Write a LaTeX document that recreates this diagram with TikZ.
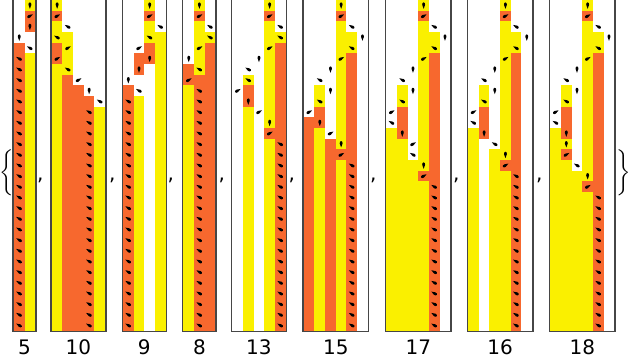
\documentclass[tikz,border=0pt]{standalone}
\usepackage{fontspec}
\setmainfont{DejaVu Sans}
\usepackage{exscale}
\definecolor{tmorange}{RGB}{247,104,46}
\definecolor{tmyellow}{RGB}{250,240,0}
\definecolor{framegray}{RGB}{70,70,70}
\tikzset{every picture/.style={line width=0.75pt}}
\tikzset{
  orangecell/.style={fill=tmorange},
  yellowcell/.style={fill=tmyellow},
  panelframe/.style={draw=framegray, line width=1pt},
  hup/.style={rotate=-90},
  hdr/.style={rotate=30},
  hdl/.style={rotate=150},
  tmhead/.pic={\fill (2.6pt,0pt) .. controls (1pt,1.35pt) and (-2.2pt,1.55pt) .. (-2.2pt,0pt) .. controls (-2.2pt,-1.55pt) and (1pt,-1.35pt) .. (2.6pt,0pt) -- cycle;},
  tmlabel/.style={anchor=base, inner sep=0.75pt, font=\fontsize{15}{18}\selectfont},
  tmcomma/.style={anchor=base west, inner sep=0pt, font=\fontsize{15}{18}\selectfont},
}

\begin{document}
\begin{tikzpicture}[x=0.75pt,y=0.75pt,yscale=-1,xscale=1]
\path[use as bounding box] (0,0) rectangle (630,362);

% Text Node: opening brace
\node (lbrace) at (7,174) {\fontsize{14}{16}\selectfont$\left\{\vrule height 15pt depth 15pt width 0pt\right.$};

%Shape: Panel halting at 5
\begin{scope}[shift={(13.9,0)},x=8pt,y=8pt]
\fill[orangecell] (0,4) rectangle (1,31);
\fill[yellowcell] (1,0) rectangle (2,1);
\fill[orangecell] (1,1) rectangle (2,3);
\fill[yellowcell] (1,5) rectangle (2,31);
\pic[hup] at (1.5,0.5) {tmhead};
\pic[hdr] at (1.5,1.5) {tmhead};
\pic[hup] at (1.5,2.5) {tmhead};
\pic[hup] at (0.5,3.5) {tmhead};
\pic[hdl] at (1.5,4.5) {tmhead};
\foreach \r in {5,...,30} \pic[hdl] at (0.5,\r+0.5) {tmhead};
\draw[panelframe] (-0.07,-0.1) rectangle (2.07,31.07);
% Text Node
\node[tmlabel] (lab5) at (1,33.2) {5};
\end{scope}

%Shape: Panel halting at 10
\begin{scope}[shift={(51.8,0)},x=8pt,y=8pt]
\fill[yellowcell] (0,0) rectangle (1,1);
\fill[orangecell] (0,1) rectangle (1,2);
\fill[yellowcell] (0,2) rectangle (1,4);
\fill[orangecell] (0,4) rectangle (1,6);
\fill[yellowcell] (0,6) rectangle (1,31);
\fill[yellowcell] (1,3) rectangle (2,7);
\fill[orangecell] (1,7) rectangle (2,31);
\fill[orangecell] (2,8) rectangle (3,31);
\fill[orangecell] (3,9) rectangle (4,31);
\fill[yellowcell] (4,10) rectangle (5,31);
\pic[hup] at (0.5,0.5) {tmhead};
\pic[hdr] at (0.5,1.5) {tmhead};
\pic[hdl] at (1.5,2.5) {tmhead};
\pic[hdl] at (0.5,3.5) {tmhead};
\pic[hdr] at (1.5,4.5) {tmhead};
\pic[hdr] at (0.5,5.5) {tmhead};
\pic[hdl] at (1.5,6.5) {tmhead};
\pic[hdr] at (2.5,7.5) {tmhead};
\pic[hup] at (3.5,8.5) {tmhead};
\pic[hdl] at (4.5,9.5) {tmhead};
\foreach \r in {10,...,30} \pic[hdl] at (3.5,\r+0.5) {tmhead};
\draw[panelframe] (-0.07,-0.1) rectangle (5.07,31.07);
% Text Node
\node[tmlabel] (lab10) at (2.5,33.2) {10};
\end{scope}

%Shape: Panel halting at 9
\begin{scope}[shift={(123,0)},x=8pt,y=8pt]
\fill[orangecell] (0,8) rectangle (1,31);
\fill[orangecell] (1,5) rectangle (2,7);
\fill[yellowcell] (1,9) rectangle (2,31);
\fill[yellowcell] (2,0) rectangle (3,1);
\fill[orangecell] (2,1) rectangle (3,2);
\fill[yellowcell] (2,2) rectangle (3,4);
\fill[orangecell] (2,4) rectangle (3,6);
\fill[yellowcell] (3,3) rectangle (4,31);
\pic[hup] at (2.5,0.5) {tmhead};
\pic[hdr] at (2.5,1.5) {tmhead};
\pic[hdl] at (3.5,2.5) {tmhead};
\pic[hdl] at (2.5,3.5) {tmhead};
\pic[hdr] at (1.5,4.5) {tmhead};
\pic[hup] at (2.5,5.5) {tmhead};
\pic[hup] at (1.5,6.5) {tmhead};
\pic[hup] at (0.5,7.5) {tmhead};
\pic[hdl] at (1.5,8.5) {tmhead};
\foreach \r in {9,...,30} \pic[hdl] at (0.5,\r+0.5) {tmhead};
\draw[panelframe] (-0.07,-0.1) rectangle (4.07,31.07);
% Text Node
\node[tmlabel] (lab9) at (2,33.2) {9};
\end{scope}

%Shape: Panel halting at 8
\begin{scope}[shift={(183.4,0)},x=8pt,y=8pt]
\fill[orangecell] (0,6) rectangle (1,8);
\fill[yellowcell] (0,8) rectangle (1,31);
\fill[yellowcell] (1,0) rectangle (2,1);
\fill[orangecell] (1,1) rectangle (2,2);
\fill[yellowcell] (1,2) rectangle (2,7);
\fill[orangecell] (1,7) rectangle (2,31);
\fill[yellowcell] (2,3) rectangle (3,4);
\fill[orangecell] (2,4) rectangle (3,31);
\pic[hup] at (1.5,0.5) {tmhead};
\pic[hdr] at (1.5,1.5) {tmhead};
\pic[hdl] at (2.5,2.5) {tmhead};
\pic[hdl] at (2.5,3.5) {tmhead};
\pic[hdr] at (1.5,4.5) {tmhead};
\pic[hup] at (0.5,5.5) {tmhead};
\pic[hdl] at (1.5,6.5) {tmhead};
\pic[hdr] at (0.5,7.5) {tmhead};
\foreach \r in {8,...,30} \pic[hdl] at (1.5,\r+0.5) {tmhead};
\draw[panelframe] (-0.07,-0.1) rectangle (3.07,31.07);
% Text Node
\node[tmlabel] (lab8) at (1.5,33.2) {8};
\end{scope}

%Shape: Panel halting at 13
\begin{scope}[shift={(232.3,0)},x=8pt,y=8pt]
\fill[yellowcell] (1,7) rectangle (2,8);
\fill[orangecell] (1,8) rectangle (2,10);
\fill[yellowcell] (1,10) rectangle (2,31);
\fill[yellowcell] (3,0) rectangle (4,1);
\fill[orangecell] (3,1) rectangle (4,2);
\fill[yellowcell] (3,2) rectangle (4,12);
\fill[orangecell] (3,12) rectangle (4,13);
\fill[yellowcell] (3,13) rectangle (4,31);
\fill[yellowcell] (4,3) rectangle (5,4);
\fill[orangecell] (4,4) rectangle (5,31);
\pic[hup] at (3.5,0.5) {tmhead};
\pic[hdr] at (3.5,1.5) {tmhead};
\pic[hdl] at (4.5,2.5) {tmhead};
\pic[hdl] at (4.5,3.5) {tmhead};
\pic[hdr] at (3.5,4.5) {tmhead};
\pic[hup] at (2.5,5.5) {tmhead};
\pic[hdl] at (1.5,6.5) {tmhead};
\pic[hdl] at (1.5,7.5) {tmhead};
\pic[hdr] at (0.5,8.5) {tmhead};
\pic[hup] at (1.5,9.5) {tmhead};
\pic[hdr] at (2.5,10.5) {tmhead};
\pic[hup] at (3.5,11.5) {tmhead};
\pic[hdr] at (3.5,12.5) {tmhead};
\foreach \r in {13,...,30} \pic[hdl] at (4.5,\r+0.5) {tmhead};
\draw[panelframe] (-0.07,-0.1) rectangle (5.07,31.07);
% Text Node
\node[tmlabel] (lab13) at (2.5,33.2) {13};
\end{scope}

%Shape: Panel halting at 15
\begin{scope}[shift={(303.8,0)},x=8pt,y=8pt]
\fill[orangecell] (0,11) rectangle (1,31);
\fill[yellowcell] (1,8) rectangle (2,10);
\fill[orangecell] (1,10) rectangle (2,12);
\fill[yellowcell] (1,12) rectangle (2,31);
\fill[orangecell] (2,13) rectangle (3,31);
\fill[yellowcell] (3,0) rectangle (4,1);
\fill[orangecell] (3,1) rectangle (4,2);
\fill[yellowcell] (3,2) rectangle (4,14);
\fill[orangecell] (3,14) rectangle (4,15);
\fill[yellowcell] (3,15) rectangle (4,31);
\fill[yellowcell] (4,3) rectangle (5,5);
\fill[orangecell] (4,5) rectangle (5,31);
\pic[hup] at (3.5,0.5) {tmhead};
\pic[hdr] at (3.5,1.5) {tmhead};
\pic[hdl] at (4.5,2.5) {tmhead};
\pic[hup] at (5.5,3.5) {tmhead};
\pic[hdl] at (4.5,4.5) {tmhead};
\pic[hdr] at (3.5,5.5) {tmhead};
\pic[hup] at (2.5,6.5) {tmhead};
\pic[hdl] at (1.5,7.5) {tmhead};
\pic[hup] at (2.5,8.5) {tmhead};
\pic[hdl] at (1.5,9.5) {tmhead};
\pic[hdr] at (0.5,10.5) {tmhead};
\pic[hup] at (1.5,11.5) {tmhead};
\pic[hdr] at (2.5,12.5) {tmhead};
\pic[hup] at (3.5,13.5) {tmhead};
\pic[hdr] at (3.5,14.5) {tmhead};
\foreach \r in {15,...,30} \pic[hdl] at (4.5,\r+0.5) {tmhead};
\draw[panelframe] (-0.07,-0.1) rectangle (6.07,31.07);
% Text Node
\node[tmlabel] (lab15) at (3,33.2) {15};
\end{scope}

%Shape: Panel halting at 17
\begin{scope}[shift={(386.3,0)},x=8pt,y=8pt]
\fill[yellowcell] (0,12) rectangle (1,31);
\fill[yellowcell] (1,8) rectangle (2,10);
\fill[orangecell] (1,10) rectangle (2,13);
\fill[yellowcell] (1,13) rectangle (2,31);
\fill[yellowcell] (2,15) rectangle (3,31);
\fill[yellowcell] (3,0) rectangle (4,1);
\fill[orangecell] (3,1) rectangle (4,2);
\fill[yellowcell] (3,2) rectangle (4,16);
\fill[orangecell] (3,16) rectangle (4,17);
\fill[yellowcell] (3,17) rectangle (4,31);
\fill[yellowcell] (4,3) rectangle (5,5);
\fill[orangecell] (4,5) rectangle (5,31);
\pic[hup] at (3.5,0.5) {tmhead};
\pic[hdr] at (3.5,1.5) {tmhead};
\pic[hdl] at (4.5,2.5) {tmhead};
\pic[hup] at (5.5,3.5) {tmhead};
\pic[hdl] at (4.5,4.5) {tmhead};
\pic[hdr] at (3.5,5.5) {tmhead};
\pic[hup] at (2.5,6.5) {tmhead};
\pic[hdl] at (1.5,7.5) {tmhead};
\pic[hup] at (2.5,8.5) {tmhead};
\pic[hdl] at (1.5,9.5) {tmhead};
\pic[hdr] at (0.5,10.5) {tmhead};
\pic[hdl] at (0.5,11.5) {tmhead};
\pic[hup] at (1.5,12.5) {tmhead};
\pic[hdr] at (2.5,13.5) {tmhead};
\pic[hdl] at (2.5,14.5) {tmhead};
\pic[hup] at (3.5,15.5) {tmhead};
\pic[hdr] at (3.5,16.5) {tmhead};
\foreach \r in {17,...,30} \pic[hdl] at (4.5,\r+0.5) {tmhead};
\draw[panelframe] (-0.07,-0.1) rectangle (6.07,31.07);
% Text Node
\node[tmlabel] (lab17) at (3,33.2) {17};
\end{scope}

%Shape: Panel halting at 16
\begin{scope}[shift={(468.1,0)},x=8pt,y=8pt]
\fill[yellowcell] (0,12) rectangle (1,31);
\fill[yellowcell] (1,8) rectangle (2,10);
\fill[orangecell] (1,10) rectangle (2,13);
\fill[yellowcell] (2,14) rectangle (3,31);
\fill[yellowcell] (3,0) rectangle (4,1);
\fill[orangecell] (3,1) rectangle (4,2);
\fill[yellowcell] (3,2) rectangle (4,15);
\fill[orangecell] (3,15) rectangle (4,16);
\fill[yellowcell] (3,16) rectangle (4,31);
\fill[yellowcell] (4,3) rectangle (5,5);
\fill[orangecell] (4,5) rectangle (5,31);
\pic[hup] at (3.5,0.5) {tmhead};
\pic[hdr] at (3.5,1.5) {tmhead};
\pic[hdl] at (4.5,2.5) {tmhead};
\pic[hup] at (5.5,3.5) {tmhead};
\pic[hdl] at (4.5,4.5) {tmhead};
\pic[hdr] at (3.5,5.5) {tmhead};
\pic[hup] at (2.5,6.5) {tmhead};
\pic[hdl] at (1.5,7.5) {tmhead};
\pic[hup] at (2.5,8.5) {tmhead};
\pic[hdl] at (1.5,9.5) {tmhead};
\pic[hdr] at (0.5,10.5) {tmhead};
\pic[hdl] at (0.5,11.5) {tmhead};
\pic[hup] at (1.5,12.5) {tmhead};
\pic[hdl] at (2.5,13.5) {tmhead};
\pic[hup] at (3.5,14.5) {tmhead};
\pic[hdr] at (3.5,15.5) {tmhead};
\foreach \r in {16,...,30} \pic[hdl] at (4.5,\r+0.5) {tmhead};
\draw[panelframe] (-0.07,-0.1) rectangle (6.07,31.07);
% Text Node
\node[tmlabel] (lab16) at (3,33.2) {16};
\end{scope}

%Shape: Panel halting at 18
\begin{scope}[shift={(550.3,0)},x=8pt,y=8pt]
\fill[yellowcell] (0,12) rectangle (1,31);
\fill[yellowcell] (1,8) rectangle (2,10);
\fill[orangecell] (1,10) rectangle (2,13);
\fill[yellowcell] (1,13) rectangle (2,14);
\fill[orangecell] (1,14) rectangle (2,15);
\fill[yellowcell] (1,15) rectangle (2,31);
\fill[yellowcell] (2,16) rectangle (3,31);
\fill[yellowcell] (3,0) rectangle (4,1);
\fill[orangecell] (3,1) rectangle (4,2);
\fill[yellowcell] (3,2) rectangle (4,17);
\fill[orangecell] (3,17) rectangle (4,18);
\fill[yellowcell] (3,18) rectangle (4,31);
\fill[yellowcell] (4,3) rectangle (5,5);
\fill[orangecell] (4,5) rectangle (5,31);
\pic[hup] at (3.5,0.5) {tmhead};
\pic[hdr] at (3.5,1.5) {tmhead};
\pic[hdl] at (4.5,2.5) {tmhead};
\pic[hup] at (5.5,3.5) {tmhead};
\pic[hdl] at (4.5,4.5) {tmhead};
\pic[hdr] at (3.5,5.5) {tmhead};
\pic[hup] at (2.5,6.5) {tmhead};
\pic[hdl] at (1.5,7.5) {tmhead};
\pic[hup] at (2.5,8.5) {tmhead};
\pic[hdl] at (1.5,9.5) {tmhead};
\pic[hdr] at (0.5,10.5) {tmhead};
\pic[hdl] at (0.5,11.5) {tmhead};
\pic[hup] at (1.5,12.5) {tmhead};
\pic[hup] at (1.5,13.5) {tmhead};
\pic[hdr] at (1.5,14.5) {tmhead};
\pic[hdl] at (2.5,15.5) {tmhead};
\pic[hup] at (3.5,16.5) {tmhead};
\pic[hdr] at (3.5,17.5) {tmhead};
\foreach \r in {18,...,30} \pic[hdl] at (4.5,\r+0.5) {tmhead};
\draw[panelframe] (-0.07,-0.1) rectangle (6.07,31.07);
% Text Node
\node[tmlabel] (lab18) at (3,33.2) {18};
\end{scope}

% Text Node: separators
\node[tmcomma] (c1) at (36.5,180) {,};
\node[tmcomma] (c2) at (108.5,180) {,};
\node[tmcomma] (c3) at (167,180) {,};
\node[tmcomma] (c4) at (218,180) {,};
\node[tmcomma] (c5) at (288,180) {,};
\node[tmcomma] (c6) at (369.5,180) {,};
\node[tmcomma] (c7) at (452.5,180) {,};
\node[tmcomma] (c8) at (535.5,180) {,};

% Text Node: closing brace
\node (rbrace) at (623,174) {\fontsize{14}{16}\selectfont$\left.\vrule height 15pt depth 15pt width 0pt\right\}$};

\end{tikzpicture}
\end{document}
